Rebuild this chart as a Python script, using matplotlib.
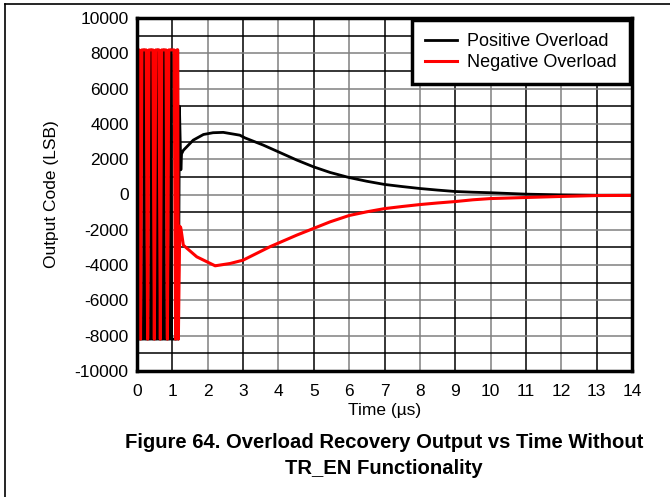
import matplotlib
matplotlib.use("Agg")
import matplotlib.pyplot as plt
from matplotlib.lines import Line2D

# oscillating overload region (0 - 1.2 us)
# red sits at full scale with narrow drops, black at negative full scale with narrow spikes
red_osc_t = [0.00, 0.02, 0.06, 0.10, 0.14, 0.26, 0.30, 0.34, 0.45, 0.49, 0.53, 0.62, 0.66, 0.70,
             0.82, 0.86, 0.90, 1.05, 1.09, 1.13, 1.15, 1.17]
red_osc_v = [3800, 8191, 8191, -8192, 8191, 8191, -8192, 8191, 8191, -8192, 8191, 8191, -8192, 8191,
             8191, -8192, 8191, 8191, -8192, 8191, 8191, -8192]
blk_osc_t = [0.00, 0.02, 0.18, 0.20, 0.22, 0.38, 0.40, 0.42, 0.57, 0.59, 0.61, 0.74, 0.76, 0.78,
             0.94, 0.96, 0.98, 1.13, 1.15, 1.17]
blk_osc_v = [-4000, -8192, -8192, 8191, -8192, -8192, 8191, -8192, -8192, 8191, -8192, -8192, 8191, -8192,
             -8192, 8191, -8192, -8192, 8191, -8192]

# recovery after the overload
pos_t = [1.20, 1.24, 1.26, 1.31, 1.59, 1.88, 2.15, 2.44, 2.91, 3.05, 3.57, 4.04, 4.52, 4.99, 5.46,
         6.0, 6.5, 7.0, 7.5, 8.0, 8.5, 9.0, 9.5, 10.0, 11.0, 12.0, 13.0, 14.0]
pos_v = [5000, 1400, 2300, 2500, 3080, 3400, 3500, 3520, 3360, 3210, 2800, 2380, 1950, 1570, 1250,
         960, 750, 570, 450, 340, 250, 170, 130, 100, 20, -20, -40, -40]
neg_t = [1.19, 1.21, 1.24, 1.31, 1.69, 2.21, 2.63, 3.00, 3.76, 4.52, 5.46,
         6.0, 6.5, 7.0, 7.5, 8.0, 8.5, 9.0, 9.5, 10.0, 11.0, 12.0, 13.0, 14.0]
neg_v = [-4800, -1800, -1900, -2870, -3530, -4040, -3910, -3720, -2960, -2300, -1550,
         -1190, -980, -800, -680, -570, -480, -400, -300, -230, -170, -110, -60, -50]

plt.rcParams['font.family'] = ['Liberation Sans', 'DejaVu Sans']
plt.rcParams['axes.unicode_minus'] = False

fig = plt.figure(figsize=(6.70, 4.97), dpi=100)
ax = fig.add_axes([137 / 670, 1 - 371 / 497, (632 - 137) / 670, (371 - 18) / 497])

ax.plot(blk_osc_t + pos_t, blk_osc_v + pos_v, color='black', lw=2.0, label='Positive Overload')
ax.plot(red_osc_t + neg_t, red_osc_v + neg_v, color='red', lw=2.2, label='Negative Overload')

ax.set_xlim(0, 14)
ax.set_ylim(-10000, 10000)
ax.set_xticks(range(0, 15))
ax.set_yticks(range(-10000, 10001, 2000))
ax.grid(False)
# grid: lines alternate black / grey as in the scanned original
for x in range(1, 14):
    ax.axvline(x, color='black' if x % 2 else '0.5', lw=1.1, zorder=0)
for y in range(-9000, 10000, 1000):
    ax.axhline(y, color='black' if (y // 1000) % 2 else '0.5', lw=1.1, zorder=0)
ax.tick_params(which='both', length=0, labelsize=12.5)
ax.tick_params(axis='x', pad=9)
ax.tick_params(axis='y', pad=6)
for s in ax.spines.values():
    s.set_linewidth(2.5)

ax.set_xlabel('Time (\u00b5s)', fontsize=12.5, labelpad=3)
ax.set_ylabel('Output Code (LSB)', fontsize=12.5, labelpad=11)

leg = ax.legend(loc='upper right', frameon=True, fancybox=False,
                borderaxespad=0.12, handlelength=1.8, handletextpad=0.55,
                borderpad=0.72, labelspacing=0.22, prop={'size': 13})
leg.get_frame().set_edgecolor('black')
leg.get_frame().set_linewidth(2.5)
leg.get_frame().set_alpha(1)

fig.text(384 / 670, 1 - 443 / 497, 'Figure 64. Overload Recovery Output vs Time Without',
         ha='center', va='center', fontsize=14.6, fontweight='bold')
fig.text(384 / 670, 1 - 468 / 497, 'TR_EN Functionality',
         ha='center', va='center', fontsize=14.6, fontweight='bold')

# frame lines at top and left of the page
fig.add_artist(Line2D([5 / 670, 1], [1 - 4 / 497, 1 - 4 / 497], color='black', lw=1.2))
fig.add_artist(Line2D([5 / 670, 5 / 670], [0, 1 - 4 / 497], color='black', lw=1.2))

fig.savefig('out.png', dpi=100)
